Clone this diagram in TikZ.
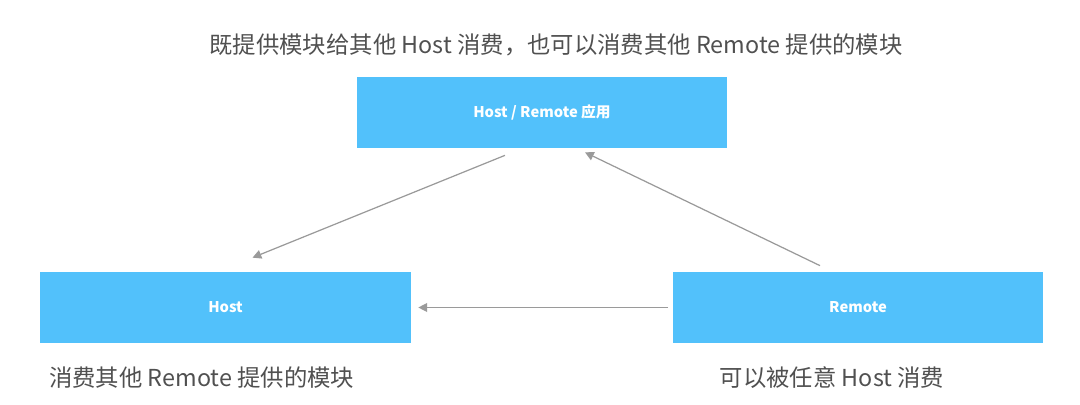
\documentclass[tikz,border=0pt]{standalone}
\usepackage{fontspec}
\setmainfont{Noto Sans CJK SC}
\usetikzlibrary{arrows.meta}
\definecolor{box-blue}{HTML}{52C1FB}
\definecolor{text-gray}{HTML}{505050}
\definecolor{line-gray}{HTML}{9A9A9A}

\begin{document}
\begin{tikzpicture}[x=0.02cm, y=-0.02cm,
        every node/.style={font=\fontsize{13.3}{16}\selectfont, text=text-gray},
        appbox/.style={fill=box-blue, draw=none, minimum width=7.42cm,
            minimum height=1.42cm, inner sep=0pt, text=white,
            font=\fontsize{8.4}{10}\selectfont\bfseries},
        flow/.style={-{Triangle[length=5pt, width=5pt]}, line-gray, line width=0.7pt}]
      \useasboundingbox (0,0) rectangle (1080,405);
      \node (title) at (556,45) {既提供模块给其他 Host 消费，也可以消费其他 Remote 提供的模块};
      \node[appbox] (APP) at (542,112.5) {Host / Remote 应用};
      \node[appbox] (HOST) at (225.5,307.5) {Host};
      \node[appbox] (REMOTE) at (858,307.5) {Remote};
      \node[anchor=west] (hostnote) at (43,378) {消费其他 Remote 提供的模块};
      \node (remotenote) at (832,378) {可以被任意 Host 消费};
      \draw[flow] ([xshift=-0.74cm, yshift=-0.14cm]APP.south)
        -- ([xshift=0.54cm, yshift=0.28cm]HOST.north);
      \draw[flow] ([xshift=-0.76cm, yshift=0.12cm]REMOTE.north)
        -- ([xshift=0.86cm, yshift=-0.08cm]APP.south);
      \draw[flow] ([xshift=-0.08cm]REMOTE.west) -- ([xshift=0.14cm]HOST.east);
    \end{tikzpicture}
\end{document}
